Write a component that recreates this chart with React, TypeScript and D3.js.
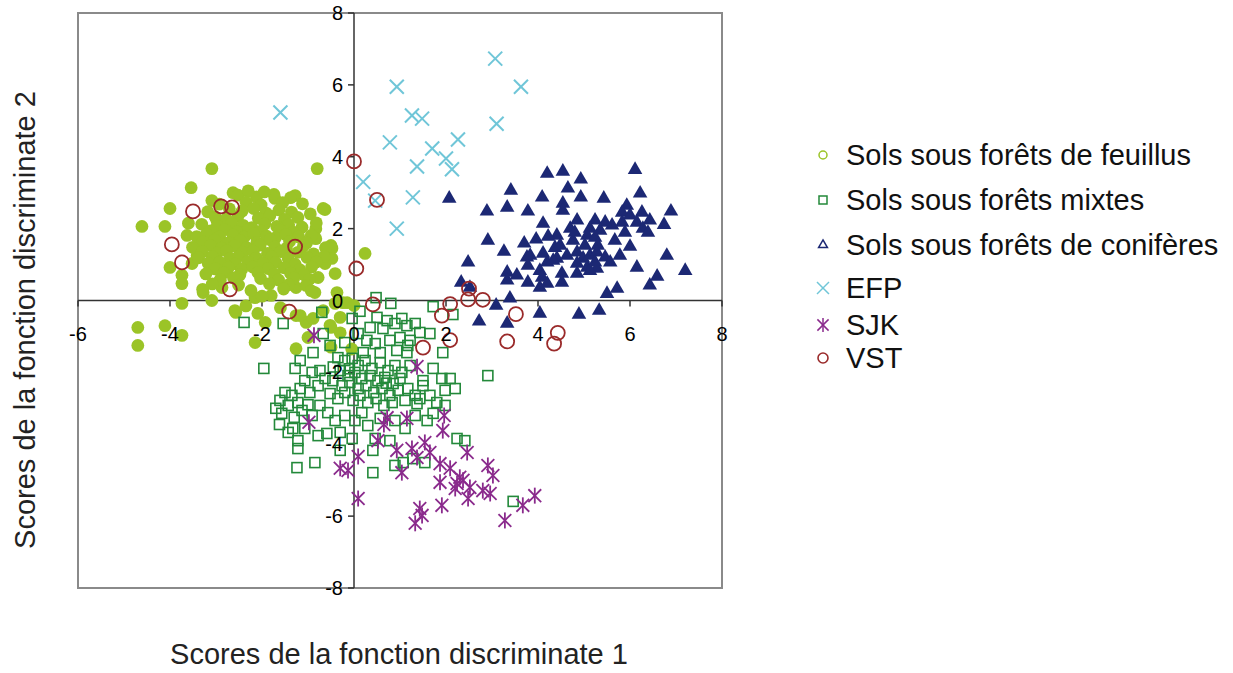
import React from "react";
import * as d3 from "d3";

// ---------- DATA ----------
const xTicks = [-6, -4, -2, 0, 2, 4, 6, 8];
const yTicks = [-8, -6, -4, -2, 0, 2, 4, 6, 8];

const seriesNames = [
  "Sols sous forêts de feuillus",
  "Sols sous forêts mixtes",
  "Sols sous forêts de conifères",
  "EFP",
  "SJK",
  "VST",
];

const feuillus: [number, number][] = [
  [-3.09, 3.67], [-0.8, 3.67], [-3.54, 3.14], [-4.0, 2.56], [-4.61, 2.06], [-4.11, 2.06], [-3.09, 2.78], [-2.63, 3.0],
  [-2.98, 2.23], [-3.6, 2.15], [-3.63, 1.81], [-4.0, 0.92], [-3.74, 0.7], [-3.74, 0.47], [-3.28, 0.22], [-3.09, 0.0],
  [-3.74, -0.08], [-4.7, -0.75], [-4.7, -1.25], [-4.11, -0.7], [-3.74, -0.97], [-2.59, -0.28], [-2.15, -1.17],
  [-3.52, 1.03], [-3.35, 1.53], [-3.41, 1.25], [-2.91, 0.56], [-2.87, 0.36], [-1.28, 2.92], [-1.72, 2.84],
  [-0.63, 2.53], [-0.83, 2.0], [0.24, 1.31], [-0.5, 1.53], [-0.57, 1.2], [-0.41, 0.75], [-0.78, 0.64], [-0.85, 0.22],
  [-1.26, 0.36], [-1.8, 0.14], [-2.15, 0.08], [-2.57, -0.33], [-2.09, -0.36], [-1.93, -0.61], [-1.26, -0.42],
  [-1.04, -0.61], [-0.67, -0.28], [-0.41, -0.08], [-0.24, -0.06], [-0.5, -0.75], [-1.26, -1.34], [-1.0, -1.03],
  [-0.67, 2.56], [-0.83, 1.72], [-0.48, 1.45], [-0.48, 1.17], [-0.63, 1.03], [-0.37, 0.22], [-0.15, -0.06],
  [0.0, -0.14], [-0.3, -0.47], [-1.17, -0.42], [-0.89, -0.5], [-0.52, -0.69], [-0.3, -0.9], [-0.5, -1.3], [-0.05, -1.35],
  [-2.52, 2.93], [-2.12, 2.88], [-1.74, 2.95], [-1.38, 2.86], [-2.3, 3.05], [-1.95, 3.02],
  [-2.93, 2.68], [-2.35, 2.74], [-2.02, 2.66], [-1.55, 2.72], [-1.12, 2.69],
  [-3.18, 2.47], [-2.71, 2.55], [-2.43, 2.49], [-2.18, 2.56], [-1.92, 2.44], [-1.63, 2.52], [-1.36, 2.46], [-0.95, 2.41],
  [-3.02, 2.33], [-2.78, 2.27], [-2.52, 2.35], [-2.08, 2.29], [-1.83, 2.36], [-1.51, 2.26], [-1.22, 2.31],
  [-3.31, 2.12], [-2.97, 2.07], [-2.66, 2.15], [-2.41, 2.09], [-2.22, 2.03], [-1.94, 2.13], [-1.68, 2.06], [-1.42, 2.11],
  [-1.13, 2.04], [-0.82, 2.16],
  [-3.12, 1.94], [-2.81, 1.97], [-2.54, 1.91], [-2.29, 1.98], [-2.02, 1.93], [-1.61, 1.96], [-1.32, 1.9],
  [-3.42, 1.78], [-3.21, 1.84], [-2.92, 1.77], [-2.63, 1.82], [-2.39, 1.76], [-2.18, 1.85], [-1.9, 1.79], [-1.71, 1.74],
  [-1.48, 1.83], [-1.2, 1.77], [-0.93, 1.81],
  [-3.28, 1.63], [-3.03, 1.68], [-2.72, 1.61], [-2.47, 1.67], [-2.11, 1.62], [-1.82, 1.69], [-1.4, 1.64], [-1.03, 1.6],
  [-3.51, 1.48], [-3.12, 1.53], [-2.88, 1.46], [-2.6, 1.52], [-2.33, 1.47], [-2.04, 1.54], [-1.72, 1.49], [-1.47, 1.45],
  [-1.1, 1.52], [-0.62, 1.47],
  [-3.3, 1.36], [-2.98, 1.32], [-2.77, 1.38], [-2.42, 1.33], [-2.19, 1.37], [-1.88, 1.31], [-1.59, 1.36], [-1.22, 1.34],
  [-0.88, 1.3],
  [-3.38, 1.19], [-3.08, 1.22], [-2.69, 1.17], [-2.51, 1.23], [-2.12, 1.18], [-1.79, 1.21], [-1.43, 1.16], [-1.02, 1.2],
  [-0.65, 1.22],
  [-3.17, 1.04], [-2.92, 1.07], [-2.58, 1.02], [-2.31, 1.08], [-1.98, 1.03], [-1.7, 1.06], [-1.28, 1.01], [-0.82, 1.07],
  [-3.02, 0.88], [-2.73, 0.92], [-2.44, 0.87], [-2.2, 0.93], [-1.87, 0.89], [-1.52, 0.91], [-1.18, 0.86], [-0.92, 0.93],
  [-3.22, 0.74], [-2.83, 0.77], [-2.48, 0.72], [-2.09, 0.78], [-1.73, 0.73], [-1.38, 0.76], [-1.08, 0.71],
  [-2.91, 0.58], [-2.62, 0.63], [-2.03, 0.61], [-1.64, 0.57], [-1.31, 0.62], [-0.97, 0.59],
  [-3.08, 0.46], [-2.51, 0.43], [-1.84, 0.47], [-1.42, 0.44], [-1.04, 0.42],
  [-3.29, 0.31], [-2.24, 0.28], [-1.53, 0.32], [-0.93, 0.27], [-2.0, 0.12], [-1.6, -0.2], [-2.35, -0.15],
];

const mixtes: [number, number][] = [
  [0.48, 0.08], [0.8, -0.08], [-0.7, -0.33], [-1.54, -0.64], [-2.39, -0.61], [-1.96, -1.89], [1.72, -0.17], [2.15, -0.39],
  [0.5, -0.47], [0.72, -0.56], [0.89, -0.64], [1.04, -0.5], [1.15, -0.7], [1.33, -0.64], [0.35, -0.75], [0.63, -0.78],
  [0.09, -0.92], [-0.2, -1.17], [0.28, -1.11], [0.46, -1.2], [0.78, -1.11], [1.0, -1.03], [1.22, -1.11], [1.43, -0.89],
  [1.65, -0.92], [0.57, -1.45], [0.93, -1.39], [1.15, -1.45], [1.17, -1.25], [1.93, -1.45], [-0.67, -0.92], [-0.52, -1.25],
  [-0.89, -1.45], [-1.17, -1.67], [-1.28, -1.89], [1.72, -1.89], [1.5, -2.23], [1.91, -2.17], [2.09, -2.17], [2.91, -2.09],
  [-0.35, -1.59], [-0.2, -1.67], [-0.04, -1.61], [0.09, -1.81], [0.24, -1.67], [0.39, -1.89], [0.57, -1.73], [0.74, -1.95],
  [0.89, -1.81], [1.04, -2.0], [1.22, -1.81], [-0.3, -1.95], [-0.13, -2.09], [0.02, -2.0], [0.17, -2.17], [0.35, -2.09],
  [0.52, -2.23], [0.67, -2.14], [0.85, -2.31], [1.0, -2.17], [-0.46, -2.23], [-0.26, -2.37], [-0.09, -2.28], [0.09, -2.45],
  [0.26, -2.37], [0.43, -2.56], [0.61, -2.45], [0.78, -2.64], [0.96, -2.5], [1.17, -2.45], [1.33, -2.64], [-0.74, -1.95],
  [-0.63, -2.17], [-0.91, -2.0], [-0.78, -2.37], [-1.07, -2.23], [-0.96, -2.56], [-1.17, -2.45], [-1.35, -2.64],
  [-1.22, -2.84], [-1.5, -2.56], [-1.61, -2.78], [-1.43, -2.92], [-0.52, -2.59], [-0.35, -2.73], [-0.2, -2.56],
  [-0.02, -2.78], [0.13, -2.64], [0.3, -2.84], [0.48, -2.73], [0.65, -2.92], [0.83, -2.84], [1.11, -2.78], [1.43, -2.73],
  [1.65, -2.64], [1.8, -2.84], [1.98, -2.5], [2.2, -2.45], [1.98, -2.92], [1.72, -3.14], [1.59, -3.34], [1.37, -2.87],
  [1.5, -2.37], [-1.57, -3.14], [-1.43, -3.67], [-1.33, -3.56], [-1.22, -4.12], [-1.24, -4.65], [-0.85, -4.51],
  [-0.3, -4.17], [-0.59, -3.7], [0.41, -4.17], [0.41, -4.79], [0.89, -4.59], [1.07, -4.51], [1.28, -4.4], [1.54, -4.51],
  [2.24, -3.84], [2.41, -3.9], [3.46, -5.59], [-1.13, -3.06], [-0.91, -3.2], [-0.74, -2.92], [-0.57, -3.12],
  [-0.41, -3.34], [-0.2, -3.2], [0.02, -3.34], [0.17, -3.12], [0.3, -3.48], [0.57, -3.28], [0.89, -3.34], [1.11, -3.56],
  [1.33, -3.2], [-1.07, -3.56], [-0.78, -3.76], [-0.3, -3.67], [-0.04, -3.84], [-1.22, -3.9], [0.46, -3.84],
  [0.78, -3.9], [-0.04, -0.5], [0.13, -0.3], [0.2, -1.45], [-0.1, -1.9], [0.7, -2.3], [-0.45, -1.85],
  [-1.7, -3.0], [-1.62, -3.45], [-1.3, -3.25], [-1.0, -2.9],
];

const coniferes: [number, number][] = [
  [6.11, 3.64], [4.2, 3.53], [4.54, 3.59], [4.93, 3.37], [3.41, 3.06], [4.65, 3.12], [6.22, 2.98], [2.07, 2.84],
  [4.09, 2.87], [4.93, 2.87], [5.43, 2.84], [4.54, 2.7], [2.89, 2.48], [3.33, 2.59], [3.78, 2.48], [4.54, 2.5],
  [5.93, 2.64], [5.83, 2.45], [6.0, 2.37], [6.26, 2.45], [6.43, 2.23], [6.15, 2.17], [6.28, 2.0], [6.39, 1.89],
  [5.83, 2.17], [5.61, 2.09], [5.89, 1.89], [6.89, 2.48], [6.74, 2.11], [4.85, 2.23], [5.24, 2.23], [5.46, 2.17],
  [4.11, 2.14], [4.7, 2.0], [4.41, 1.81], [4.22, 1.78], [5.07, 1.81], [5.24, 1.75], [2.91, 1.67], [3.26, 1.36],
  [3.7, 1.59], [3.96, 1.7], [4.37, 1.47], [4.76, 1.67], [5.3, 1.53], [6.0, 1.5], [2.48, 1.06], [3.76, 1.2],
  [3.78, 0.97], [4.11, 1.31], [4.2, 1.06], [4.41, 1.17], [4.63, 1.25], [4.85, 1.34], [4.98, 1.17], [5.13, 1.25],
  [5.28, 1.34], [5.46, 1.2], [5.57, 1.06], [4.85, 1.03], [5.07, 0.92], [6.8, 1.25], [6.15, 0.92], [7.2, 0.83],
  [3.33, 0.78], [3.54, 0.7], [4.04, 0.83], [4.09, 0.64], [4.52, 0.75], [4.85, 0.75], [5.28, 0.89], [2.33, 0.5],
  [3.33, 0.56], [3.78, 0.5], [4.04, 0.36], [4.2, 0.47], [4.52, 0.5], [6.59, 0.67], [6.43, 0.42], [5.72, 0.33],
  [5.5, 0.19], [2.52, 0.36], [3.39, 0.06], [3.09, -0.14], [4.04, -0.36], [4.89, -0.39], [5.33, -0.28], [3.33, -0.64],
  [2.72, -0.58], [4.48, 1.53], [5.02, 1.53], [4.8, 1.89], [5.13, 2.0], [4.33, 1.11], [5.35, 1.95], [5.67, 1.67],
  [5.13, 0.83], [5.78, 1.25], [3.83, 1.25], [5.24, 1.06],
];

const efp: [number, number][] = [
  [-1.6, 5.23], [0.93, 5.95], [3.07, 6.73], [3.63, 5.95], [1.26, 5.15], [1.48, 5.06], [3.1, 4.92], [0.78, 4.4],
  [2.26, 4.48], [1.7, 4.23], [2.0, 3.95], [2.13, 3.65], [1.37, 3.73], [0.2, 3.3], [1.28, 2.87], [0.46, 2.78], [0.93, 2.0],
];

const sjk: [number, number][] = [
  [-0.87, -0.97], [1.37, -1.84], [-0.98, -3.39], [0.72, -3.26], [0.65, -3.45], [1.15, -3.28], [1.96, -3.2], [1.93, -3.62],
  [0.52, -3.9], [1.54, -3.95], [0.93, -4.17], [1.26, -4.12], [1.65, -4.23], [0.09, -4.34], [2.46, -4.23], [1.37, -4.37],
  [1.04, -4.79], [-0.3, -4.67], [-0.13, -4.73], [1.87, -4.54], [2.09, -4.67], [2.3, -4.92], [2.24, -5.09], [2.37, -5.0],
  [1.87, -5.06], [2.2, -5.23], [2.52, -5.2], [2.91, -4.59], [3.02, -4.87], [2.8, -5.29], [2.96, -5.37], [0.09, -5.51],
  [2.48, -5.51], [1.91, -5.7], [3.67, -5.7], [3.93, -5.43], [1.43, -5.79], [1.48, -5.98], [3.28, -6.12], [1.33, -6.2],
];

const vst: [number, number][] = [
  [0, 3.87], [0.5, 2.8], [0.05, 0.89], [-1.28, 1.5], [-3.5, 2.48], [-2.89, 2.62], [-2.65, 2.59], [-3.96, 1.56],
  [-3.74, 1.06], [-2.7, 0.31], [-1.41, -0.31], [0.41, -0.11], [1.91, -0.42], [2.09, -0.1], [1.5, -1.31], [2.09, -1.1],
  [2.48, 0.03], [2.8, 0.02], [2.5, 0.33], [3.52, -0.38], [3.33, -1.14], [4.43, -0.9], [4.35, -1.2],
];

const colors = ["#9bc427", "#23893a", "#1c2874", "#70c6d8", "#8a2a8c", "#9a2a2a"];

// ---------- CHART ----------
const W = 1233;
const H = 673;
const FONT = "'Liberation Sans', Arial, sans-serif";

const xS = d3.scaleLinear().domain([-6, 8]).range([78, 722]);
const yS = d3.scaleLinear().domain([-8, 8]).range([588, 13]);

const triPath = d3.symbol().type(d3.symbolTriangle).size(92)() as string;
const triLegend = d3.symbol().type(d3.symbolTriangle).size(34)() as string;

function Cross({ cx, cy, s, color, w }: any) {
  return (
    <g stroke={color} strokeWidth={w} fill="none">
      <line x1={cx - s} y1={cy - s} x2={cx + s} y2={cy + s} />
      <line x1={cx - s} y1={cy + s} x2={cx + s} y2={cy - s} />
    </g>
  );
}

function Star({ cx, cy, s, color, w }: any) {
  return (
    <g stroke={color} strokeWidth={w} fill="none">
      <line x1={cx - s * 0.8} y1={cy - s * 0.8} x2={cx + s * 0.8} y2={cy + s * 0.8} />
      <line x1={cx - s * 0.8} y1={cy + s * 0.8} x2={cx + s * 0.8} y2={cy - s * 0.8} />
      <line x1={cx} y1={cy - s} x2={cx} y2={cy + s} />
    </g>
  );
}

export default function App() {
  const x0 = xS(0);
  const y0 = yS(0);
  const legendY = [155, 200, 245, 288, 325, 358];
  const legendX = 823;

  return (
    <svg
      width={W}
      height={H}
      style={{ position: "absolute", left: 0, top: 0, background: "#fff" }}
      fontFamily={FONT}
    >
      <rect x={0} y={0} width={W} height={H} fill="#fff" />
      {/* plot frame */}
      <rect x={78} y={13} width={644} height={575} fill="none" stroke="#8a8a8a" strokeWidth={2} />
      {/* axes through origin */}
      <line x1={78} x2={722} y1={y0} y2={y0} stroke="#333" strokeWidth={1.5} />
      <line x1={x0} x2={x0} y1={13} y2={588} stroke="#333" strokeWidth={1.5} />
      {xTicks.map((t) => (
        <line key={"xt" + t} x1={xS(t)} x2={xS(t)} y1={y0} y2={y0 + 6} stroke="#333" strokeWidth={1.5} />
      ))}
      {yTicks.map((t) => (
        <line key={"yt" + t} x1={x0 - 6} x2={x0} y1={yS(t)} y2={yS(t)} stroke="#333" strokeWidth={1.5} />
      ))}

      {/* points */}
      <g>
        {feuillus.map((d, i) => (
          <circle key={"f" + i} cx={xS(d[0])} cy={yS(d[1])} r={6.4} fill={colors[0]} />
        ))}
      </g>
      <g>
        {mixtes.map((d, i) => (
          <rect
            key={"m" + i}
            x={xS(d[0]) - 5}
            y={yS(d[1]) - 5}
            width={10}
            height={10}
            fill="none"
            stroke={colors[1]}
            strokeWidth={1.6}
          />
        ))}
      </g>
      <g>
        {coniferes.map((d, i) => (
          <path key={"c" + i} d={triPath} transform={`translate(${xS(d[0])},${yS(d[1])})`} fill={colors[2]} />
        ))}
      </g>
      <g>
        {efp.map((d, i) => (
          <Cross key={"e" + i} cx={xS(d[0])} cy={yS(d[1])} s={7} color={colors[3]} w={2} />
        ))}
      </g>
      <g>
        {sjk.map((d, i) => (
          <Star key={"s" + i} cx={xS(d[0])} cy={yS(d[1])} s={8} color={colors[4]} w={1.8} />
        ))}
      </g>
      <g>
        {vst.map((d, i) => (
          <circle key={"v" + i} cx={xS(d[0])} cy={yS(d[1])} r={7} fill="none" stroke={colors[5]} strokeWidth={1.8} />
        ))}
      </g>

      {/* tick labels */}
      {xTicks.map((t) => (
        <text key={"xl" + t} x={xS(t)} y={y0 + 40} textAnchor="middle" fontSize={20} fill="#000">
          {t}
        </text>
      ))}
      {yTicks.map((t) => (
        <text key={"yl" + t} x={x0 - 11} y={yS(t) + 7} textAnchor="end" fontSize={20} fill="#000">
          {t}
        </text>
      ))}

      {/* axis titles */}
      <text x={399} y={664} textAnchor="middle" fontSize={29} fill="#222">
        Scores de la fonction discriminate 1
      </text>
      <text
        transform={`translate(35,320) rotate(-90)`}
        textAnchor="middle"
        fontSize={29}
        fill="#222"
      >
        Scores de la fonction discriminate 2
      </text>

      {/* legend */}
      <g>
        <circle cx={legendX} cy={legendY[0]} r={4} fill="none" stroke={colors[0]} strokeWidth={1.5} />
        <rect x={legendX - 4} y={legendY[1] - 4} width={8} height={8} fill="none" stroke={colors[1]} strokeWidth={1.5} />
        <path d={triLegend} transform={`translate(${legendX},${legendY[2]})`} fill="none" stroke={colors[2]} strokeWidth={1.5} />
        <Cross cx={legendX} cy={legendY[3]} s={6} color={colors[3]} w={1.5} />
        <Star cx={legendX} cy={legendY[4]} s={7} color={colors[4]} w={1.5} />
        <circle cx={legendX} cy={legendY[5]} r={5} fill="none" stroke={colors[5]} strokeWidth={1.6} />
        {seriesNames.map((n, i) => (
          <text key={n} x={846} y={legendY[i] + 10} fontSize={29} fill="#111">
            {n}
          </text>
        ))}
      </g>
    </svg>
  );
}
